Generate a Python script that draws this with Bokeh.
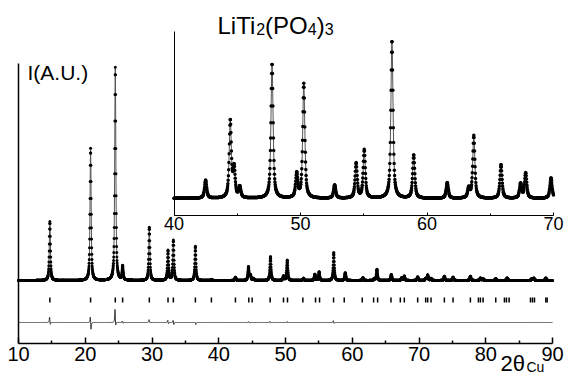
import numpy as np
from bokeh.plotting import figure
from bokeh.models import Range1d, LinearAxis, FixedTicker, Label, ColumnDataSource
from bokeh.embed import file_html
from bokeh.resources import INLINE

# ---- data ----
peak_pos = [14.7, 20.8, 24.5, 25.6, 29.6, 32.4, 33.2, 36.5, 38.9, 42.5, 44.45, 44.75, 45.2,
            47.75, 49.7, 50.26, 52.7, 54.4, 55.04, 57.23, 58.95, 61.6, 63.3, 63.7, 65.85,
            67.4, 67.8, 69.8, 71.0, 71.3, 71.8, 73.8, 75.1, 77.7, 79.2, 79.6, 81.5, 83.2,
            86.9, 87.2, 89.0]
peak_int = [27.7, 62.0, 100.0, 6.6, 24.9, 14.1, 18.8, 16.0, 0.5, 1.5, 6.4, 2.4, 0.9,
            11.2, 2.0, 9.5, 1.1, 2.9, 4.0, 13.1, 3.6, 1.3, 0.8, 5.2, 2.8,
            1.2, 2.1, 1.7, 0.9, 2.6, 1.0, 2.0, 1.6, 2.0, 1.2, 0.8, 0.9, 1.2,
            0.8, 1.1, 1.2]

bragg_pos = [14.7, 20.8, 24.5, 25.6, 29.6, 32.4, 33.2, 36.5, 38.9, 42.5, 44.5, 45.0, 47.7,
             49.7, 50.3, 52.6, 54.5, 55.1, 57.2, 58.8, 61.5, 63.2, 63.8, 65.8, 67.2, 67.8,
             69.8, 71.0, 71.3, 71.8, 73.8, 75.1, 77.7, 78.9, 79.2, 79.6, 81.5, 82.8, 83.1,
             83.5, 86.7, 87.0, 87.3, 89.0, 89.2]

diff_pos = [14.7, 20.8, 24.5, 25.6, 29.6, 32.4, 33.2, 36.5, 44.5, 47.7, 50.3, 57.2]
diff_up = [2.8, 3.3, 6.6, 0.8, 1.4, 1.2, 1.2, 0.3, 0.5, 0.6, 0.5, 1.0]
diff_down = [1.4, 3.8, 2.4, 0.5, 0.3, 0.8, 1.2, 1.0, 0.3, 0.3, 0.3, 0.6]

x_ticks = [10, 20, 30, 40, 50, 60, 70, 80, 90]
x_minor = [15, 25, 35, 45, 55, 65, 75, 85]
inset_ticks = [40, 50, 60, 70]
inset_minor = [45, 55, 65]

# ---- profile built from the peak table ----
tt = np.round(np.arange(10.0, 90.0001, 0.02), 2)
FWHM, ETA = 0.2, 0.7


def pv(x, c, w=FWHM, eta=ETA):
    z = (x - c) / (w / 2.0)
    return eta / (1 + z * z) + (1 - eta) * np.exp(-np.log(2) * z * z)


obs = np.zeros_like(tt)
for c, h in zip(peak_pos, peak_int):
    obs += h * pv(tt, c)

DIFF_OFF = -19.72
diff = np.full_like(tt, DIFF_OFF)
for c, u, d in zip(diff_pos, diff_up, diff_down):
    diff += u * pv(tt, c - 0.04, 0.1, 1.0) - d * pv(tt, c + 0.06, 0.1, 1.0)

main_src = ColumnDataSource(dict(x=tt, y=obs, d=diff))
m = (tt >= 40) & (tt <= 70)
ins_src = ColumnDataSource(dict(x=tt[m], y=obs[m]))

# ---- figure geometry (frame = whole canvas, axes at fixed locations) ----
W, H = 564, 375
PXU = 2.13            # px per intensity unit, main
MX = 534 / 80.0       # px per degree, main
X0 = 10 - 18 / MX
X1 = 90 + 12 / MX
Y1 = 280 / PXU
Y0 = -(H - 280) / PXU
AXY = -63 / PXU       # main x-axis position
p = figure(width=W, height=H, output_backend="svg", toolbar_location=None,
           x_range=Range1d(X0, X1), y_range=Range1d(Y0, Y1),
           min_border=0, min_border_left=0, min_border_right=0,
           min_border_top=0, min_border_bottom=0,
           x_axis_type=None, y_axis_type=None)
p.outline_line_color = None
p.grid.visible = False
p.background_fill_color = "white"
p.border_fill_color = "white"

IMX = 379.5 / 30.0    # px per degree, inset
IPX = 12.05           # px per intensity unit, inset
p.extra_x_ranges = {"ix": Range1d(40 - 173.5 / IMX, 70 + 11 / IMX)}
p.extra_y_ranges = {"iy": Range1d(-(H - 198) / IPX, 198 / IPX)}
IAX = -17 / IPX

FONT = "Liberation Sans"

xax = LinearAxis(fixed_location=AXY, bounds=(10, 90),
                 ticker=FixedTicker(ticks=x_ticks, minor_ticks=x_minor),
                 major_tick_in=6, major_tick_out=0, minor_tick_in=3, minor_tick_out=0,
                 axis_line_width=1.5, major_tick_line_width=1.5, minor_tick_line_width=1.5,
                 major_label_text_font=FONT, major_label_text_font_size="20px",
                 major_label_text_color="black", major_label_standoff=3)
p.add_layout(xax, "below")
yax = LinearAxis(fixed_location=10, bounds=(AXY, 217 / PXU), ticker=FixedTicker(ticks=[]),
                 axis_line_width=1.5, major_tick_line_color=None, minor_tick_line_color=None,
                 major_label_text_font_size="0px")
p.add_layout(yax, "left")

ixax = LinearAxis(x_range_name="ix", y_range_name="iy", fixed_location=IAX, bounds=(40, 70),
                  ticker=FixedTicker(ticks=inset_ticks, minor_ticks=inset_minor),
                  major_tick_in=3, major_tick_out=0, minor_tick_in=2, minor_tick_out=0,
                  axis_line_width=1.0,
                  major_label_text_font=FONT, major_label_text_font_size="18px",
                  major_label_text_color="black", major_label_standoff=1)
p.add_layout(ixax, "below")
iyax = LinearAxis(x_range_name="ix", y_range_name="iy", fixed_location=40,
                  bounds=(IAX, 167 / IPX), ticker=FixedTicker(ticks=[]), axis_line_width=1.0,
                  major_tick_line_color=None, minor_tick_line_color=None,
                  major_label_text_font_size="0px")
p.add_layout(iyax, "left")

# main pattern
p.line("x", "y", source=main_src, line_color="#555555", line_width=1)
p.scatter("x", "y", source=main_src, size=3, fill_color="black", line_color=None)
p.segment(x0=bragg_pos, y0=[-17 / PXU] * len(bragg_pos), x1=bragg_pos,
          y1=[-22 / PXU] * len(bragg_pos), line_color="black", line_width=1.5)
p.line("x", "d", source=main_src, line_color="#333333", line_width=1)

# inset pattern
p.line("x", "y", source=ins_src, line_color="#555555", line_width=1,
       x_range_name="ix", y_range_name="iy")
p.scatter("x", "y", source=ins_src, size=3.5, fill_color="black", line_color=None,
          x_range_name="ix", y_range_name="iy")


def sx(px):
    return X0 + px / MX


def sy(py):
    return (280 - py) / PXU


# texts (baseline positions corrected for the renderer's baseline shift)
SH = 8
p.add_layout(Label(x=sx(27), y=sy(80 - SH), text="I(A.U.)", text_font=FONT,
                   text_font_size="21px", text_color="black", text_baseline="alphabetic"))

tx, ty = sx(217), sy(33 - SH)
pieces = [("LiTi", 0, 0, "24px"), ("2", 38.7, -3, "16px"), ("(PO", 47.6, 0, "24px"),
          ("4", 90.3, -3, "16px"), (")", 99.2, 0, "24px"), ("3", 107.2, -3, "16px")]
for t, dx, dy, fs in pieces:
    p.add_layout(Label(x=tx, y=ty, x_offset=dx, y_offset=dy, text=t, text_font=FONT,
                       text_font_size=fs, text_color="black", text_baseline="alphabetic"))

ax_x, ax_y = sx(500), sy(371 - SH)
p.add_layout(Label(x=ax_x, y=ax_y, text="2θ", text_font=FONT, text_font_size="22px",
                   text_color="black", text_baseline="alphabetic"))
p.add_layout(Label(x=ax_x, y=ax_y, x_offset=26, y_offset=-3, text="Cu", text_font=FONT,
                   text_font_size="14px", text_color="black", text_baseline="alphabetic"))

open("out.html", "w").write(file_html(p, INLINE))
